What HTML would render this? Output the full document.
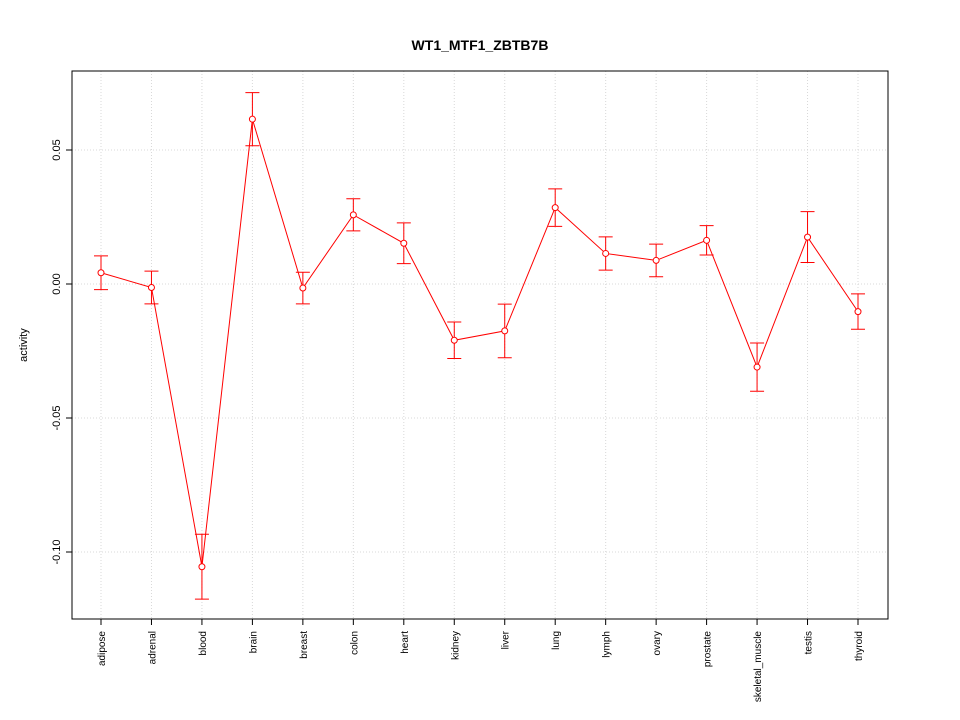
<!DOCTYPE html>
<html><head><meta charset="utf-8"><style>body{margin:0;background:#fff}svg{display:block;font-family:"Liberation Sans",sans-serif}</style></head>
<body>
<svg id="chart" width="960" height="720"></svg>
<script>
const categories=["adipose","adrenal","blood","brain","breast","colon","heart","kidney","liver","lung","lymph","ovary","prostate","skeletal_muscle","testis","thyroid"];
const values=[0.0042,-0.0013,-0.1055,0.0615,-0.0015,0.0258,0.0152,-0.0210,-0.0175,0.0285,0.0114,0.0088,0.0163,-0.0310,0.0175,-0.0103];
const errors=[0.0063,0.0061,0.0121,0.0099,0.0059,0.0060,0.0076,0.0068,0.0100,0.0070,0.0062,0.0061,0.0055,0.0090,0.0095,0.0066];
const yTicks=[0.05,0.00,-0.05,-0.10];
const yTickLabels=["0.05","0.00","-0.05","-0.10"];
const NS="http://www.w3.org/2000/svg",svg=document.getElementById('chart');
const L=72,R=888,T=71,B=619;
const x=i=>101+i*(858-101)/15;
const y=v=>284-v*2680;
function mk(t,a,p){const e=document.createElementNS(NS,t);for(const k in a)e.setAttribute(k,a[k]);(p||svg).appendChild(e);return e;}
const title=mk('text',{x:480,y:50,'text-anchor':'middle','font-size':14,'font-weight':'bold'});


title.textContent="WT1_MTF1_ZBTB7B";
categories.forEach((c,i)=>{
 const g=mk('line',{x1:x(i),x2:x(i),y1:T,y2:B,stroke:'#d8d8d8','stroke-dasharray':'1,2'});
 
 
 const tk=mk('line',{x1:x(i),x2:x(i),y1:B,y2:B+6,stroke:'#000'});
 
 
 const t=mk('text',{transform:`translate(${x(i)+4},${B+12}) rotate(-90)`,'text-anchor':'end','font-size':10});
 
 
 t.textContent=c;
});
yTicks.forEach((v,i)=>{
 const g=mk('line',{x1:L,x2:R,y1:y(v),y2:y(v),stroke:'#d8d8d8','stroke-dasharray':'1,2'});
 
 
 const tk=mk('line',{x1:L-6,x2:L,y1:y(v),y2:y(v),stroke:'#000'});
 
 
 const t=mk('text',{transform:`translate(${L-12},${y(v)}) rotate(-90)`,'text-anchor':'middle','font-size':11});
 
 
 t.textContent=yTickLabels[i];
});
const frame=mk('rect',{x:L,y:T,width:R-L,height:B-T,fill:'none',stroke:'#000','stroke-width':1});


const yl=mk('text',{transform:`translate(27,345) rotate(-90)`,'text-anchor':'middle','font-size':11});


yl.textContent="activity";
const line=mk('polyline',{points:values.map((v,i)=>x(i)+','+y(v)).join(' '),fill:'none',stroke:'#f00','stroke-width':1});


values.forEach((v,i)=>{
 const lo=y(v-errors[i]),hi=y(v+errors[i]),cx=x(i);
 const eb=mk('path',{d:`M${cx},${lo}V${hi}M${cx-7},${lo}H${cx+7}M${cx-7},${hi}H${cx+7}`,stroke:'#f00',fill:'none','stroke-width':1});
 
 
 const p=mk('circle',{cx:cx,cy:y(v),r:3,fill:'#fff',stroke:'#f00','stroke-width':1});
 
 
});
</script>
</body></html>
